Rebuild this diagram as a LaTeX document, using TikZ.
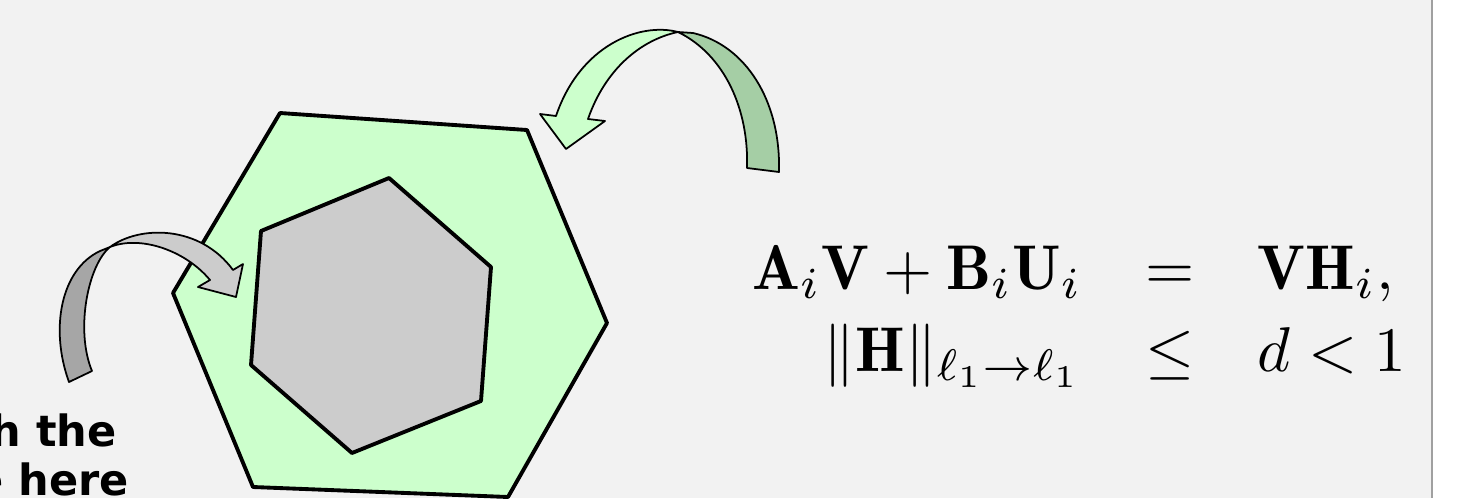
\documentclass[tikz,border=0pt]{standalone}
\usepackage{amsmath, amssymb}
\usepackage{fontspec}
\newfontfamily\labelfont{DejaVu Sans}
\usepackage{tikz}
\definecolor{bggray}{RGB}{242,242,242}
\definecolor{hexgreen}{RGB}{204,255,204}
\definecolor{darkgreen}{RGB}{165,206,165}
\definecolor{hexgray}{RGB}{204,204,204}
\definecolor{darkgray}{RGB}{166,166,166}
\definecolor{edgegray}{RGB}{160,160,160}

\begin{document}
\begin{tikzpicture}[x=0.02cm, y=-0.02cm, line join=round,
  hexline/.style={draw=black, line width=2.2pt},
  arrowline/.style={draw=black, line width=1pt},
  lbl/.style={font=\labelfont\bfseries\fontsize{24.5}{28}\selectfont, inner sep=0pt, anchor=base east}]
  \useasboundingbox (0,0) rectangle (1464,498);
  \clip (0,0) rectangle (1464,498);
  \fill[white] (0,0) rectangle (1464,498);
  \fill[bggray] (0,0) rectangle (1432,498);
  \draw[edgegray, line width=1.2pt] (1432,0) -- (1432,498);
  % the two polygons
  \filldraw[hexline, fill=hexgreen] (280,113) -- (527,130) -- (607,323) -- (508,497) -- (253,487) -- (173,293) -- cycle;
  \filldraw[hexline, fill=hexgray] (389,178) -- (491,267) -- (481,401) -- (352,453) -- (251,365) -- (261,231) -- cycle;
  % green arrow
  \filldraw[arrowline, fill=darkgreen] (678,32) .. controls (725,55) and (749,110) .. (747,168)
    -- (779,172) .. controls (781,100) and (745,45) .. (693,33) -- cycle;
  \filldraw[arrowline, fill=hexgreen] (678,32) .. controls (640,22) and (580,45) .. (556,116)
    -- (540,114) -- (566,149) -- (605,121) -- (588,119) .. controls (605,70) and (640,40) .. (678,32) -- cycle;
  % gray arrow
  \filldraw[arrowline, fill=darkgray] (110,247) .. controls (88,265) and (75,330) .. (92,371)
    -- (69,382) .. controls (50,330) and (60,270) .. (100,251) -- cycle;
  \filldraw[arrowline, fill=hexgray] (110,247) .. controls (140,225) and (200,225) .. (233,270)
    -- (243,264) -- (236,297) -- (198,287) -- (210,280) .. controls (185,250) and (140,235) .. (110,247) -- cycle;
  % labels
  \node[lbl] (lbltop) at (117,446) {h the};
  \node[lbl] (lblbot) at (129,495) {e here};
  \node[scale=3.6, inner sep=0pt, anchor=west] (eqs) at (751,315)
    {$\begin{array}{@{}r@{\quad}c@{\quad}l@{}}
      \mathbf{A}_i\mathbf{V}+\mathbf{B}_i\mathbf{U}_i & = & \mathbf{V}\mathbf{H}_i,\\[1pt]
      \|\mathbf{H}\|_{\ell_1\to\ell_1} & \leq & d<1
    \end{array}$};
\end{tikzpicture}
\end{document}
